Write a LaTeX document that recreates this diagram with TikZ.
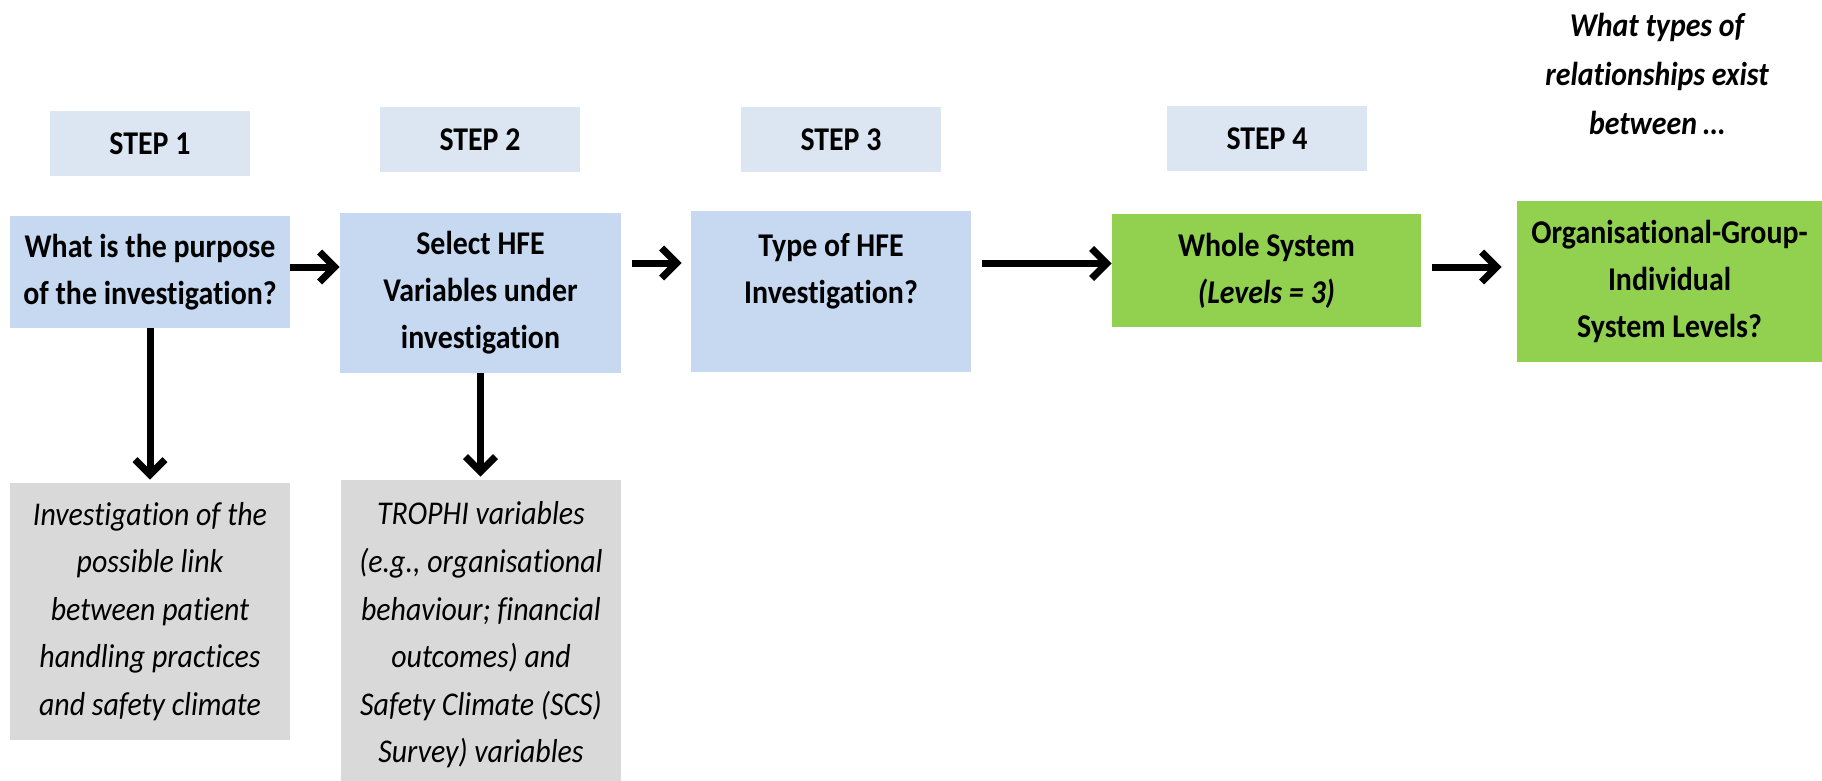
\documentclass[tikz,border=0pt]{standalone}
\usepackage{fontspec}
\setmainfont{Carlito}[FakeStretch=0.9, Ligatures=NoCommon]
\usetikzlibrary{arrows.meta}
\definecolor{stepc}{HTML}{DCE6F2}
\definecolor{bluec}{HTML}{C6D9F1}
\definecolor{greenc}{HTML}{92D050}
\definecolor{grayc}{HTML}{D9D9D9}
\begin{document}
\begin{tikzpicture}[x=0.5pt,y=-0.5pt,
  base/.style={inner sep=0pt, align=center, font=\fontsize{16.6}{23.5}\selectfont},
  stepbox/.style={base, fill=stepc, minimum width=100pt, minimum height=32.5pt, font=\fontsize{16.6}{23.5}\selectfont\bfseries},
  bluebox/.style={base, fill=bluec, font=\fontsize{16.6}{23.5}\selectfont\bfseries},
  greenbox/.style={base, fill=greenc, font=\fontsize{16.6}{23.5}\selectfont\bfseries},
  graybox/.style={base, fill=grayc, font=\fontsize{16.6}{23.8}\selectfont\itshape},
  question/.style={base, font=\fontsize{16.6}{24.5}\selectfont\bfseries\itshape},
  arr/.style={line width=3.5pt, -{Straight Barb[length=7.5pt,width=15pt]}}
]
\useasboundingbox (0,0) rectangle (1822,781);
\clip (0,0) rectangle (1822,781);

% step labels
\node[stepbox] (s1) at (150,143.5) {STEP 1};
\node[stepbox] (s2) at (480,139.5) {STEP 2};
\node[stepbox] (s3) at (841,139.5) {STEP 3};
\node[stepbox] (s4) at (1267,138.5) {STEP 4};

% question text
\node[question] (q) at (1657,73.5) {What types of\\relationships exist\\between \dots};

% main boxes
\node[bluebox, minimum width=140pt, minimum height=56pt] (b1) at (150,272)
  {What is the purpose\\of the investigation?};
\node[bluebox, minimum width=140.5pt, minimum height=80pt] (b2) at (480.5,293)
  {Select HFE\\Variables under\\investigation};
\node[bluebox, minimum width=140pt, minimum height=80.5pt] (b3) at (831,291.5)
  {Type of HFE\\Investigation?\\\mbox{}};
\node[greenbox, minimum width=154.5pt, minimum height=56.5pt] (b4) at (1266.5,270.5)
  {Whole System\\{\itshape (Levels = 3)}};
\node[greenbox, minimum width=152.5pt, minimum height=80.5pt] (b5) at (1669.5,281.5)
  {Organisational-Group-\\Individual\\System Levels?};

% grey boxes
\node[graybox, minimum width=140pt, minimum height=128.5pt] (g1) at (150,611.5)
  {Investigation of the\\possible link\\between patient\\handling practices\\and safety climate};
\node[graybox, minimum width=140pt, minimum height=155pt] (g2) at (481,635)
  {TROPHI variables\\(e.g., organisational\\behaviour; financial\\outcomes) and\\Safety Climate (SCS)\\Survey) variables};

% connectors
\draw[arr] ([yshift=2.5pt]b1.east) -- ([yshift=2.5pt]b1.east -| b2.west);
\draw[arr, shorten <=5.5pt, shorten >=4.5pt] ([yshift=15pt]b2.east) -- ([yshift=15pt]b2.east -| b3.west);
\draw[arr, shorten <=5.5pt] ([yshift=14pt]b3.east) -- ([yshift=14pt]b3.east -| b4.west);
\draw[arr, shorten <=5.5pt, shorten >=7.5pt] ([yshift=1.75pt]b4.east) -- ([yshift=1.75pt]b4.east -| b5.west);
\draw[arr, shorten >=1.5pt] (b1.south) -- (b1.south |- g1.north);
\draw[arr, shorten >=1.5pt] (b2.south) -- (b2.south |- g2.north);
\end{tikzpicture}
\end{document}
